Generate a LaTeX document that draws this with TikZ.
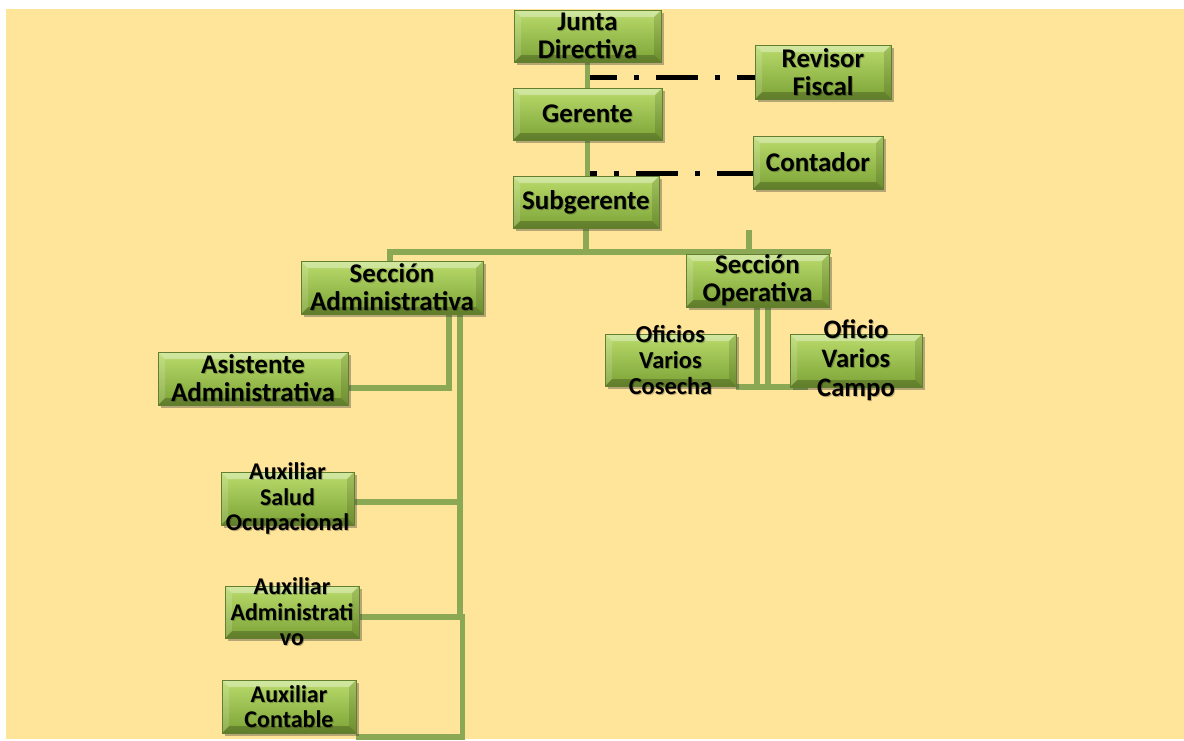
\documentclass[tikz,border=0pt]{standalone}
\usepackage{fontspec}
\setmainfont{Carlito}
\usetikzlibrary{shadows}
\definecolor{bgy}{RGB}{255,229,153}
\definecolor{connc}{RGB}{139,169,84}
\definecolor{boxtop}{RGB}{186,220,108}
\definecolor{boxmid}{RGB}{156,196,78}
\definecolor{boxbot}{RGB}{124,162,54}
\definecolor{boxline}{RGB}{98,126,48}
\newcommand\gbevel{%
 \fill[white,opacity=0.35] (path picture bounding box.north west) -- (path picture bounding box.north east) -- ([shift={(-7pt,-7pt)}]path picture bounding box.north east) -- ([shift={(7pt,-7pt)}]path picture bounding box.north west) -- cycle;
 \fill[black,opacity=0.22] (path picture bounding box.south west) -- (path picture bounding box.south east) -- ([shift={(-7pt,7pt)}]path picture bounding box.south east) -- ([shift={(7pt,7pt)}]path picture bounding box.south west) -- cycle;
 \fill[white,opacity=0.15] (path picture bounding box.north west) -- (path picture bounding box.south west) -- ([shift={(7pt,7pt)}]path picture bounding box.south west) -- ([shift={(7pt,-7pt)}]path picture bounding box.north west) -- cycle;
 \fill[black,opacity=0.12] (path picture bounding box.north east) -- (path picture bounding box.south east) -- ([shift={(-7pt,7pt)}]path picture bounding box.south east) -- ([shift={(-7pt,-7pt)}]path picture bounding box.north east) -- cycle;
}
\tikzset{
 gbox/.style={rectangle, draw=boxline, line width=0.8pt, top color=boxtop, middle color=boxmid, bottom color=boxbot, inner sep=0pt,
   drop shadow={shadow xshift=2.5pt, shadow yshift=-3pt, opacity=0.35, fill=black!80},
   path picture={\gbevel}},
 txtbig/.style={font=\bfseries\fontsize{27}{28}\selectfont, align=center, inner sep=0pt},
 txtcampo/.style={font=\bfseries\fontsize{26.7}{29}\selectfont, align=center, inner sep=0pt},
 txtcos/.style={font=\bfseries\fontsize{24.4}{26}\selectfont, align=center, inner sep=0pt},
 txtsmall/.style={font=\bfseries\fontsize{24}{25.5}\selectfont, align=center, inner sep=0pt},
 glow/.style={text=black, opacity=0.25},
 conn/.style={draw=connc, line width=5.5pt},
 dashdot/.style={draw=black, line width=5pt, dash pattern=on 42pt off 17pt on 5pt off 17pt},
}
\newcommand\gnode[7]{%
 \node[gbox, minimum width=#4pt, minimum height=#5pt] (#1) at (#2,#3) {};
 \node[#6, glow] (#1-s) at ([shift={(1pt,-1pt)}]#1.center) {#7};
 \node[#6] (#1-t) at (#1.center) {#7};}
\begin{document}
\begin{tikzpicture}[x=1pt,y=-1pt]
\useasboundingbox (0,0) rectangle (1184,740);
\fill[bgy] (6,9) rectangle (1184,739);

% coordinates for connectors
\coordinate (busL) at (390,252);
\coordinate (busR) at (828,252);
\coordinate (stub) at (749,230);
\coordinate (d1) at (590,77);
\coordinate (d2) at (590,173);

% invisible anchors at the box positions, used by the connectors
\path
 (587.5,36) node[minimum width=147pt, minimum height=52pt, inner sep=0pt] (jdA) {}
 (823,72) node[minimum width=136pt, minimum height=54pt, inner sep=0pt] (rfA) {}
 (587.5,114) node[minimum width=149pt, minimum height=52pt, inner sep=0pt] (gerA) {}
 (818,162.5) node[minimum width=130pt, minimum height=53pt, inner sep=0pt] (conA) {}
 (586,202) node[minimum width=146pt, minimum height=52pt, inner sep=0pt] (subA) {}
 (392,287.5) node[minimum width=182pt, minimum height=53pt, inner sep=0pt] (saA) {}
 (757.5,280.5) node[minimum width=143pt, minimum height=53pt, inner sep=0pt] (soA) {}
 (670.5,360) node[minimum width=131pt, minimum height=52pt, inner sep=0pt] (ovcA) {}
 (856,360.5) node[minimum width=132pt, minimum height=53pt, inner sep=0pt] (ovaA) {}
 (253,378.5) node[minimum width=190pt, minimum height=53pt, inner sep=0pt] (asiA) {}
 (287.5,498.5) node[minimum width=133pt, minimum height=53pt, inner sep=0pt] (asoA) {}
 (292,612) node[minimum width=134pt, minimum height=52pt, inner sep=0pt] (aadA) {}
 (289,706.5) node[minimum width=134pt, minimum height=53pt, inner sep=0pt] (aconA) {};

% connectors
\draw[conn] (jdA.south) -- (gerA.north);
\draw[conn] (gerA.south) -- (gerA.south |- subA.north);
\draw[conn] (subA.south) -- (subA.south |- busL);
\draw[conn] (saA.north -| busL) -- (busL) -- (busR) -- (soA.north -| busR);
\draw[conn] (stub) -- (stub |- busL);
\draw[conn] (asiA.east |- 0,388) -| (saA.south -| 449,0);
\draw[conn] (saA.south -| 460,0) -- (460,617);
\draw[conn] (asoA.east |- 0,502) -- (460,502);
\draw[conn] (aadA.east |- 0,617) -- (462.5,617) -- (462.5,737) -- (aconA.east |- 0,737);
\draw[conn] (soA.south -| 757,0) -- (757,387);
\draw[conn] (soA.south -| 768,0) -- (768,387);
\draw[conn] (ovcA.east |- 0,387) -- (808,387);
\draw[dashdot, dash phase=15pt] (d1) -- (rfA.west |- d1);
\draw[dashdot, dash phase=35pt] (d2) -- (conA.west |- d2);

% visible boxes
\gnode{jd}{587.5}{36}{147}{52}{txtbig}{Junta\\Directiva}
\gnode{rf}{823}{72}{136}{54}{txtbig}{Revisor\\Fiscal}
\gnode{ger}{587.5}{114}{149}{52}{txtbig}{Gerente}
\gnode{con}{818}{162.5}{130}{53}{txtbig}{Contador}
\gnode{sub}{586}{202}{146}{52}{txtbig}{Subgerente}
\gnode{sa}{392}{287.5}{182}{53}{txtbig}{Sección\\Administrativa}
\gnode{so}{757.5}{280.5}{143}{53}{txtbig}{Sección\\Operativa}
\gnode{ovc}{670.5}{360}{131}{52}{txtcos}{Oficios\\Varios\\Cosecha}
\gnode{ova}{856}{360.5}{132}{53}{txtcampo}{Oficio\\Varios\\Campo}
\gnode{asi}{253}{378.5}{190}{53}{txtbig}{Asistente\\Administrativa}
\gnode{aso}{287.5}{498.5}{133}{53}{txtsmall}{Auxiliar\\Salud\\Ocupacional}
\gnode{aad}{292}{612}{134}{52}{txtsmall}{Auxiliar\\Administrati\\vo}
\gnode{acon}{289}{706.5}{134}{53}{txtsmall}{Auxiliar\\Contable}
\end{tikzpicture}
\end{document}
